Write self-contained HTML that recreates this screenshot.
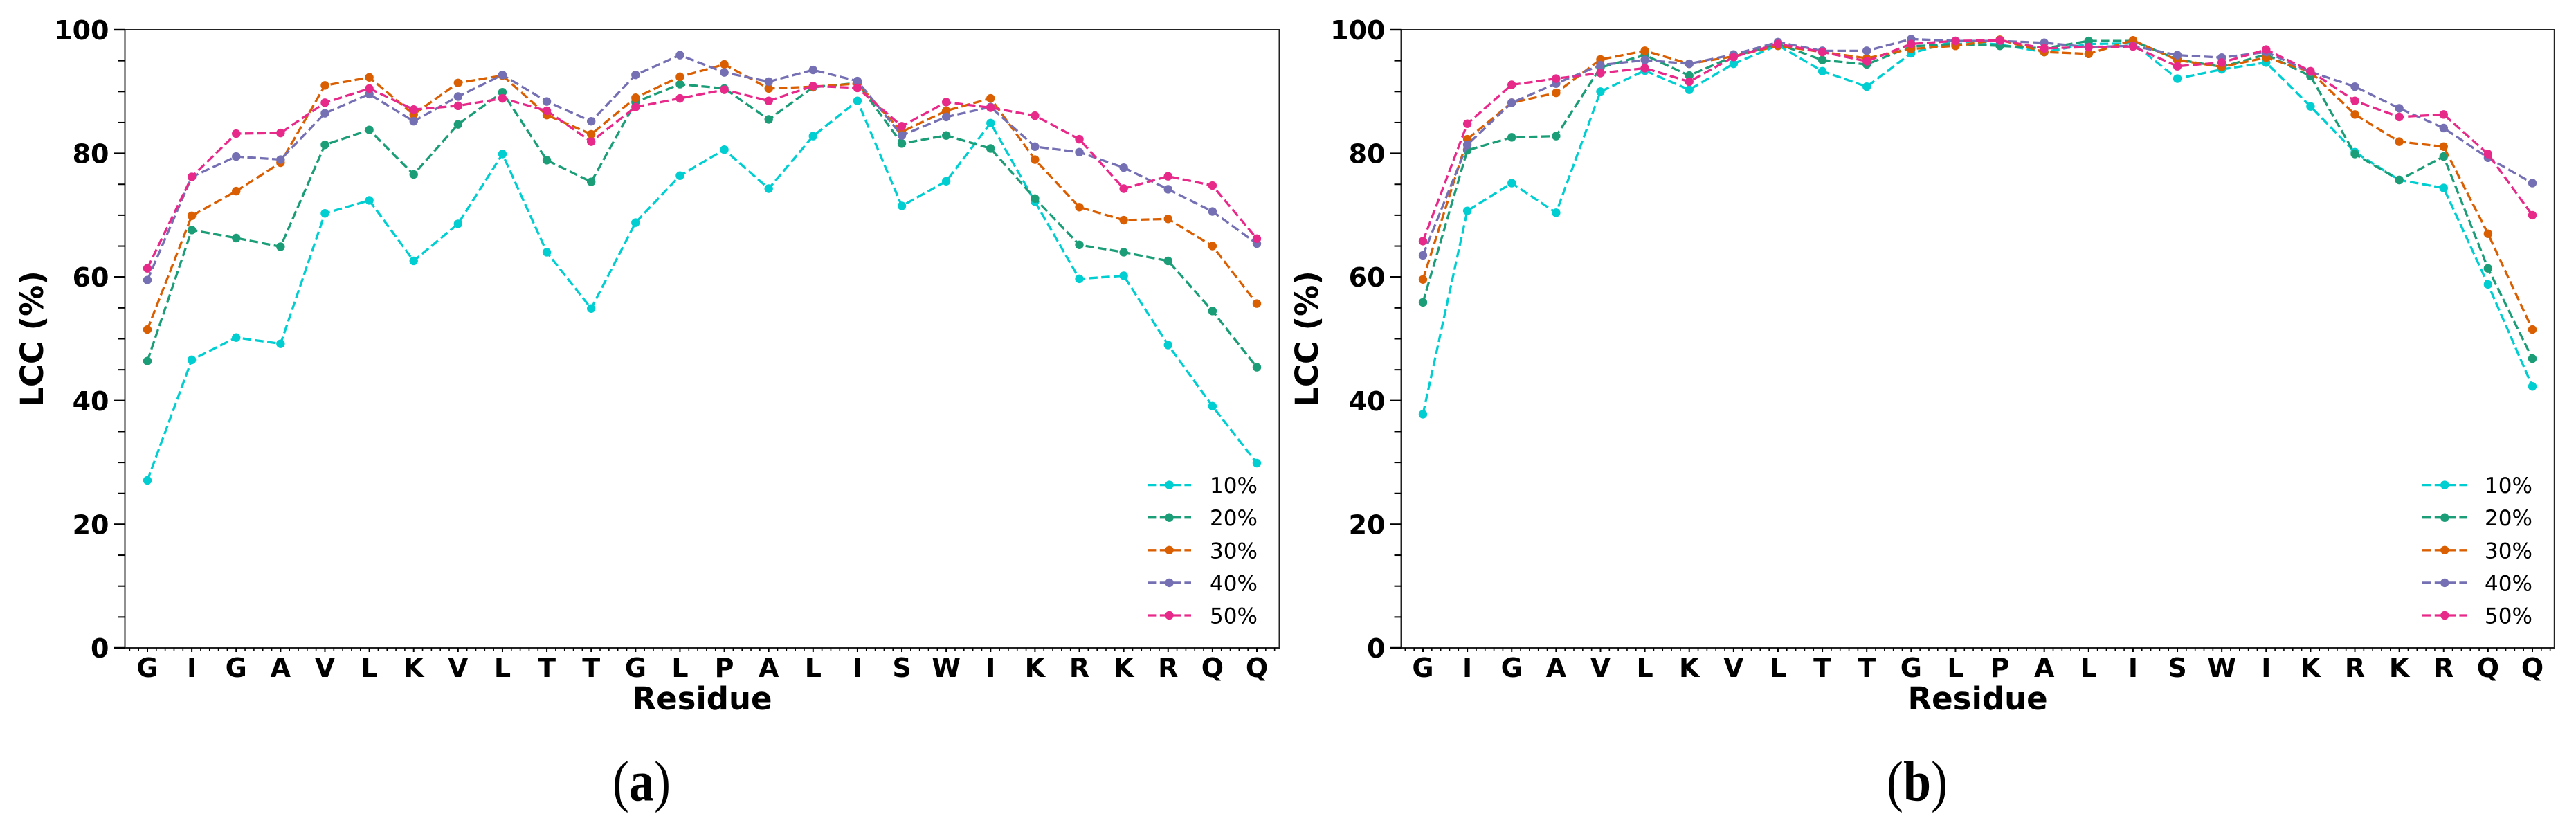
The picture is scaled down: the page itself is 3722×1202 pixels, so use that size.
<!DOCTYPE html>
<html lang="en">
<head>
<meta charset="utf-8">
<title>LCC per residue</title>
<style>
html,body{margin:0;padding:0;background:#fff;width:3722px;height:1202px;overflow:hidden}
svg{display:block}
.tick{font-family:"DejaVu Sans",sans-serif;font-weight:700;font-size:38px;fill:#000}
.title{font-family:"DejaVu Sans",sans-serif;font-weight:700;font-size:45px;fill:#000}
.leg{font-family:"DejaVu Sans",sans-serif;font-size:31px;fill:#000}
.cap{font-family:"Liberation Serif",serif;font-size:72px;fill:#000}
.cap tspan{font-weight:700}
</style>
</head>
<body>
<svg id="figure" xmlns="http://www.w3.org/2000/svg" width="3722" height="1202" viewBox="0 0 3722 1202">
  <rect x="0" y="0" width="3722" height="1202" fill="#fff"/>
  <g id="panel-a"></g>
  <g id="panel-b"></g>
  <text class="title" transform="translate(62,489.5) rotate(-90)" text-anchor="middle">LCC (%)</text>
  <text class="title" x="1014.5" y="1025" text-anchor="middle">Residue</text>
  <text class="title" transform="translate(1904,489.5) rotate(-90)" text-anchor="middle">LCC (%)</text>
  <text class="title" x="2857.6" y="1025" text-anchor="middle">Residue</text>
  <text class="cap" transform="translate(927,1156.5) scale(1,1.15)" text-anchor="middle">(<tspan>a</tspan>)</text>
  <text class="cap" transform="translate(2770,1156.5) scale(1,1.15)" text-anchor="middle">(<tspan>b</tspan>)</text>
</svg>
<script>
const residues = ["G","I","G","A","V","L","K","V","L","T","T","G","L","P","A","L","I","S","W","I","K","R","K","R","Q","Q"];
const yTickLabels = [0,20,40,60,80,100];
const seriesNames = ["10%","20%","30%","40%","50%"];
const seriesColors = ["#00ced1","#1b9e77","#d95f02","#7570b3","#e7298a"];

const a10 = [27.1,46.6,50.2,49.2,70.3,72.4,62.6,68.6,79.9,64.0,54.9,68.8,76.4,80.6,74.3,82.8,88.5,71.5,75.5,84.9,72.2,59.7,60.2,49.0,39.1,29.9];
const a20 = [46.4,67.6,66.3,64.9,81.4,83.8,76.6,84.7,89.9,78.9,75.4,88.3,91.2,90.5,85.5,90.7,91.4,81.6,82.9,80.8,72.7,65.2,64.0,62.6,54.5,45.4];
const a30 = [51.5,69.9,73.9,78.5,91.0,92.3,86.3,91.4,92.6,86.2,83.1,89.0,92.4,94.4,90.5,90.8,91.3,83.5,86.9,88.9,79.0,71.3,69.2,69.4,65.0,55.7];
const a40 = [59.5,76.2,79.5,79.0,86.5,89.6,85.2,89.2,92.7,88.4,85.2,92.7,95.9,93.1,91.6,93.5,91.7,82.9,85.9,87.5,81.1,80.2,77.7,74.2,70.6,65.4];
const a50 = [61.4,76.2,83.2,83.3,88.2,90.5,87.1,87.7,88.9,86.9,81.9,87.5,88.9,90.3,88.5,90.9,90.6,84.4,88.3,87.4,86.1,82.3,74.3,76.3,74.8,66.2];

const b10 = [37.8,70.7,75.2,70.4,90.0,93.4,90.3,94.5,97.5,93.3,90.8,96.2,98.2,97.6,96.4,97.7,97.8,92.1,93.6,94.7,87.6,80.2,75.7,74.4,58.8,42.3];
const b20 = [55.9,80.5,82.6,82.8,93.9,95.9,92.6,95.7,97.7,95.1,94.4,97.3,97.7,97.4,97.0,98.2,98.2,95.2,94.0,96.0,92.5,79.9,75.7,79.5,61.4,46.8];
const b30 = [59.6,82.3,88.2,89.8,95.2,96.6,94.5,95.7,97.4,96.4,95.4,96.9,97.4,98.4,96.4,96.1,98.3,95.1,94.0,95.5,93.2,86.3,81.9,81.1,67.0,51.5];
const b40 = [63.5,81.4,88.2,91.3,94.3,95.1,94.5,96.0,98.0,96.6,96.6,98.5,98.2,98.2,97.9,97.2,97.4,95.9,95.5,96.4,93.2,90.8,87.3,84.1,79.3,75.2];
const b50 = [65.8,84.8,91.1,92.1,93.0,93.8,91.6,95.6,97.7,96.4,94.9,97.7,98.2,98.3,97.0,97.2,97.3,94.1,94.7,96.8,93.3,88.5,85.9,86.3,79.9,70.0];

const seriesA = [a10,a20,a30,a40,a50];
const seriesB = [b10,b20,b30,b40,b50];

const NS = "http://www.w3.org/2000/svg";
function make(parent, tag, attrs, txt){
  const n = document.createElementNS(NS, tag);
  for (const k in attrs) n.setAttribute(k, attrs[k]);
  if (txt !== undefined) n.textContent = txt;
  parent.appendChild(n);
  return n;
}

function drawPanel(root, cfg, series){
  const xScale = i => cfg.x0 + i * cfg.dx;
  const yScale = v => cfg.yBottom - (v / 100) * (cfg.yBottom - cfg.yTop);

  const frame = make(root, "rect", {x:cfg.left, y:cfg.yTop, width:cfg.right-cfg.left, height:cfg.yBottom-cfg.yTop, fill:"none", stroke:"#222", "stroke-width":2});
  
  

  for (let v = 0; v <= 100; v += 5){
    const major = v % 20 === 0;
    const t = make(root, "line", {x1:cfg.left-(major?16:10), x2:cfg.left, y1:yScale(v), y2:yScale(v), stroke:"#000", "stroke-width":major?2.4:2});
    
    
  }
  yTickLabels.forEach(v => {
    const t = make(root, "text", {class:"tick", x:cfg.left-23, y:yScale(v)+14, "text-anchor":"end"}, String(v));
    
    
  });

  for (let k = -2; k <= residues.length * 5 - 3; k++){
    const major = k % 5 === 0 && k >= 0;
    const px = xScale(k / 5);
    const t = make(root, "line", {x1:px, x2:px, y1:cfg.yBottom, y2:cfg.yBottom+(major?6:4), stroke:"#000", "stroke-width":major?2:1.6});
    
    
  }
  residues.forEach((r, i) => {
    const t = make(root, "text", {class:"tick", x:xScale(i), y:978, "text-anchor":"middle"}, r);
    
    
  });

  series.forEach((vals, s) => {
    const g = make(root, "g", {});
    
    
    const pts = vals.map((v, i) => xScale(i).toFixed(1) + "," + yScale(v).toFixed(1)).join(" ");
    const line = make(g, "polyline", {points:pts, fill:"none", stroke:seriesColors[s], "stroke-width":3.3, "stroke-dasharray":"12.4 5.4"});
    
    
    vals.forEach((v, i) => {
      const c = make(g, "circle", {cx:xScale(i), cy:yScale(v), r:6.2, fill:seriesColors[s]});
      
      
    });
  });

  seriesNames.forEach((name, s) => {
    const yy = cfg.legY + s * 47.1;
    const g = make(root, "g", {});
    
    
    make(g, "line", {x1:cfg.legX1, x2:cfg.legX2, y1:yy, y2:yy, stroke:seriesColors[s], "stroke-width":3.3, "stroke-dasharray":"12.4 5.4"});
    make(g, "circle", {cx:(cfg.legX1+cfg.legX2)/2, cy:yy, r:6.2, fill:seriesColors[s]});
    make(g, "text", {class:"leg", x:cfg.legT, y:yy+11.5}, name);
  });
}

drawPanel(document.getElementById("panel-a"),
  {left:180.5, right:1848.5, yTop:43, yBottom:936, x0:213, dx:64.12, legX1:1658, legX2:1721, legT:1748, legY:700.6},
  seriesA);
drawPanel(document.getElementById("panel-b"),
  {left:2024.5, right:3690.8, yTop:43, yBottom:936, x0:2056, dx:64.12, legX1:3500, legX2:3564.6, legT:3590, legY:700.6},
  seriesB);
</script>
</body>
</html>
